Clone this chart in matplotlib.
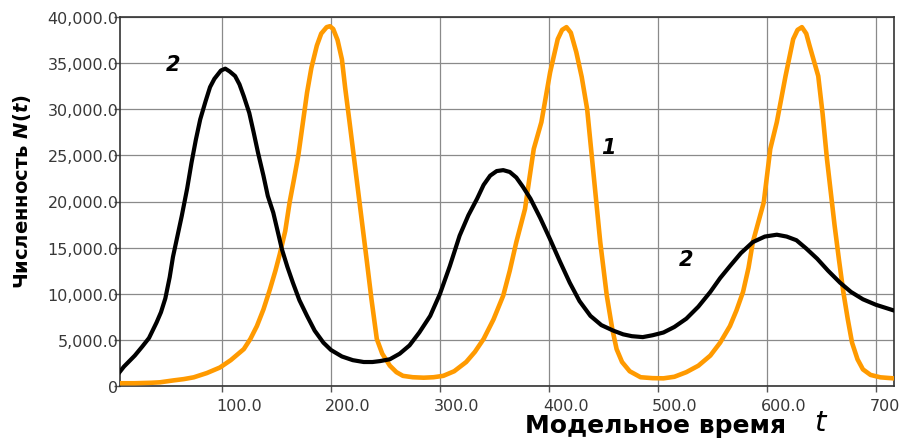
import matplotlib
matplotlib.use("Agg")
import matplotlib.pyplot as plt
import matplotlib.transforms as mtransforms

plt.rcParams['font.family'] = ['DejaVu Sans']
plt.rcParams['mathtext.fontset'] = 'custom'
plt.rcParams['mathtext.rm'] = 'DejaVu Sans:bold'
plt.rcParams['mathtext.it'] = 'DejaVu Sans:bold:italic'
plt.rcParams['mathtext.bf'] = 'DejaVu Sans:bold'

# Series 2 (black)
t2 = [6, 10, 15, 20, 27, 33, 40, 44, 48, 52, 55, 59, 63, 68, 72, 76, 80, 85, 89, 93,
      99, 103, 107, 112, 116, 120, 125, 129, 133, 138, 142, 147, 151, 155, 160, 165,
      171, 178, 185, 193, 200, 210, 220, 230, 238, 245, 254, 263, 272, 281, 291, 300,
      309, 318, 326, 334, 340, 346, 352, 358, 364, 370, 376, 383, 392, 401, 410, 419,
      428, 438, 448, 459, 468, 476, 486, 495, 505, 515, 526, 537, 548, 557, 566, 576,
      587, 598, 609, 618, 627, 636, 646, 656, 667, 677, 688, 700, 716]
n2 = [1500, 2100, 2700, 3300, 4300, 5200, 6900, 8000, 9500, 11800, 14000, 16200, 18400,
      21400, 24200, 26700, 28900, 30900, 32400, 33300, 34200, 34400, 34100, 33600,
      32700, 31400, 29600, 27500, 25300, 22800, 20600, 18800, 16800, 14800, 12900,
      11200, 9300, 7600, 6000, 4700, 3900, 3200, 2800, 2600, 2600, 2700, 2900, 3500,
      4400, 5800, 7600, 10000, 13000, 16300, 18500, 20300, 21800, 22800, 23300, 23400,
      23200, 22600, 21600, 20300, 18200, 15900, 13500, 11200, 9200, 7600, 6600, 6000,
      5600, 5400, 5300, 5500, 5800, 6400, 7300, 8600, 10200, 11700, 13000, 14400,
      15600, 16200, 16400, 16200, 15800, 14900, 13800, 12500, 11200, 10200, 9400,
      8800, 8200]

# Series 1 (orange)
t1 = [6, 20, 35, 43, 55, 65, 74, 86, 98, 108, 120, 126, 132, 138, 144, 149, 153, 158,
      162, 166, 170, 174, 178, 182, 187, 191, 196, 199, 202, 206, 210, 213, 217, 221,
      225, 229, 233, 237, 242, 247, 254, 260, 266, 275, 285, 294, 303, 313, 324, 332,
      340, 349, 358, 364, 370, 378, 382, 386, 393, 401, 408, 412, 416, 420, 425, 430,
      435, 441, 447, 453, 458, 462, 467, 474, 484, 495, 505, 515, 526, 537, 548, 557,
      566, 572, 578, 583, 587, 597, 603, 609, 617, 624, 628, 632, 636, 639, 647, 651,
      655, 662, 666, 670, 674, 678, 683, 688, 695, 704, 716]
n1 = [300, 300, 350, 400, 600, 750, 940, 1400, 2000, 2800, 4000, 5100, 6500, 8300,
      10500, 12500, 14300, 16800, 19900, 22400, 25000, 28400, 31800, 34500, 36900,
      38200, 38900, 39000, 38700, 37500, 35400, 32300, 28600, 24800, 21000, 17200,
      13400, 9500, 5100, 3500, 2200, 1500, 1100, 950, 900, 950, 1100, 1600, 2600, 3700,
      5100, 7200, 9800, 12500, 15600, 19200, 22500, 25700, 28600, 34000, 37600, 38600,
      38900, 38300, 36200, 33500, 30000, 22800, 15600, 9800, 6200, 4000, 2600, 1600,
      950, 850, 830, 1000, 1500, 2200, 3300, 4700, 6500, 8200, 10200, 12800, 15600,
      19900, 25700, 28600, 33600, 37600, 38600, 38900, 38200, 36900, 33600, 29500,
      24600, 17400, 13700, 10200, 7300, 4700, 2900, 1800, 1200, 940, 830]

x_ticks = [100, 200, 300, 400, 500, 600, 700]
x_tick_labels = ["100.0", "200.0", "300.0", "400.0", "500.0", "600.0", "700"]
y_ticks = [0, 5000, 10000, 15000, 20000, 25000, 30000, 35000, 40000]
y_tick_labels = ["0", "5,000.0", "10,000.0", "15,000.0", "20,000.0", "25,000.0",
                 "30,000.0", "35,000.0", "40,000.0"]

fig = plt.figure(figsize=(9.03, 4.39), dpi=100)
ax = fig.add_axes([120/903, 1 - 387/439, (894-120)/903, (387-18)/439])

ax.plot(t1, n1, color='#ff9a00', lw=3.3, solid_joinstyle='round', zorder=3)
ax.plot(t2, n2, color='black', lw=3.0, solid_joinstyle='round', zorder=4)

ax.set_xlim(6.4, 716.5)
ax.set_ylim(0, 40000)
ax.set_xticks(x_ticks)
ax.set_xticklabels(x_tick_labels)
ax.set_yticks(y_ticks)
ax.set_yticklabels(y_tick_labels)
ax.grid(True, color='#8a8a8a', lw=0.9)
ax.set_axisbelow(True)

ax.tick_params(axis='both', labelsize=11.5, labelcolor='#383838', color='#555555',
               width=1.0)
ax.tick_params(axis='y', length=4, pad=-3)
ax.tick_params(axis='x', length=4.5, pad=4)

offset = mtransforms.ScaledTranslation(-6/100, 0, fig.dpi_scale_trans)
for lab in ax.get_xticklabels():
    lab.set_ha('left')
    lab.set_transform(lab.get_transform() + offset)

for sp in ax.spines.values():
    sp.set_color('#333333')
    sp.set_linewidth(1.2)

ax.text(55, 34900, "2", fontsize=15, fontweight='bold', fontstyle='italic',
        ha='center', va='center', zorder=5)
ax.text(454, 25900, "1", fontsize=15, fontweight='bold', fontstyle='italic',
        ha='center', va='center', zorder=5)
ax.text(526, 13770, "2", fontsize=15, fontweight='bold', fontstyle='italic',
        ha='center', va='center', zorder=5)

fig.text(22/903, 1 - 192/439, r"Численность $N(t)$", rotation=90, fontsize=14,
         fontweight='bold', ha='center', va='center')
fig.text(656/903, 1 - 426/439, "Модельное время", fontsize=18, fontweight='bold',
         ha='center', va='center')
fig.text(820/903, 1 - 423/439, "t", fontsize=21, fontstyle='italic',
         ha='center', va='center')

fig.savefig("out.png", dpi=100)
